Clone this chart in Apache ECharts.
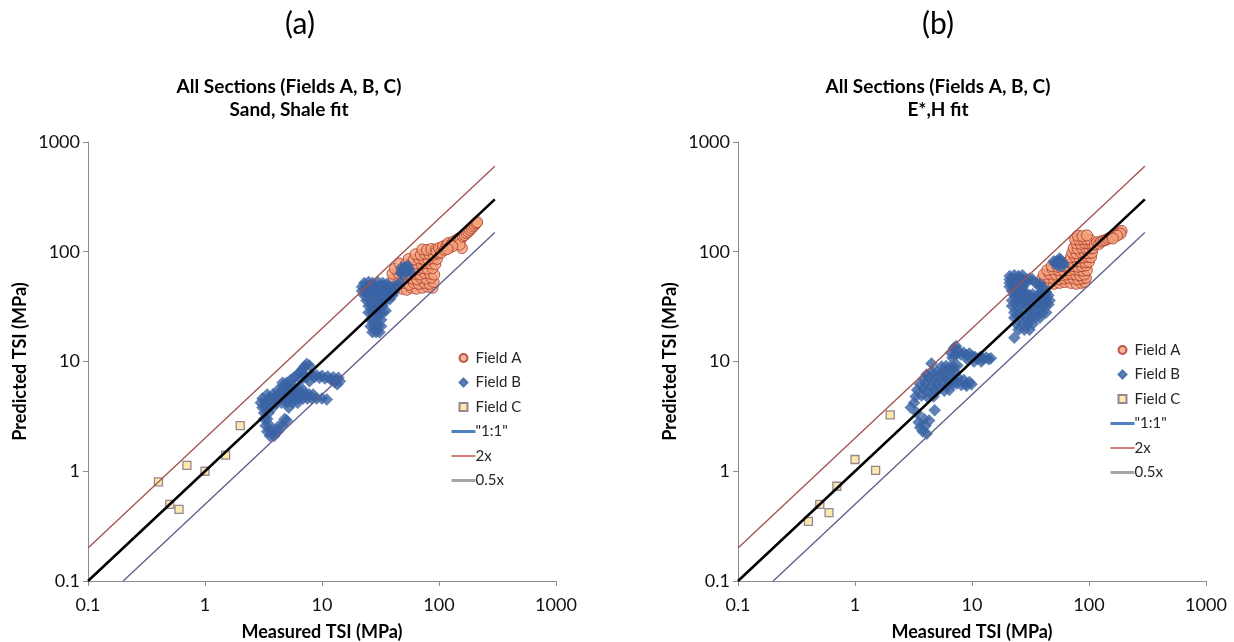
<!DOCTYPE html>
<html>
<head>
<meta charset="utf-8">
<script src="https://cdn.jsdelivr.net/npm/echarts@6/dist/echarts.min.js"></script>
<style>
html, body { margin: 0; padding: 0; background: #fff; }
#main { width: 1234px; height: 642px; }
</style>
</head>
<body>
<div id="main"></div>
<script>
// reference lines, same for both panels
const oneToOne = [[0.1, 0.1], [300, 300]];
const twoX = [[0.1, 0.2], [300, 600]];
const halfX = [[0.2, 0.1], [300, 150]];

// (a) Sand, Shale fit
const fieldA_a = [
  [48,46],[53,45],[58,47],[64,46],[72,47],[80,48],[88,47],
  [44,51],[50,52],[56,50],[61,52],[67,51],[75,52],[83,51],[90,53],
  [41,57],[46,56],[52,58],[59,57],[65,56],[70,58],[78,57],[86,58],
  [40,63],[45,64],[50,62],[55,64],[62,63],[69,62],[76,64],[84,63],[91,62],
  [42,70],[48,69],[54,71],[60,70],[66,69],[73,71],[80,70],[88,71],
  [46,78],[52,77],[58,79],[64,78],[71,77],[77,79],[85,78],[93,77],
  [55,86],[61,85],[67,87],[74,86],[81,85],[89,87],[96,86],
  [63,95],[70,94],[76,96],[83,95],[90,94],[98,96],
  [72,105],[79,104],[86,106],[94,105],[102,104],
  [95,100],[100,108],[104,98],[108,112],[112,104],[116,114],[120,120],[124,110],[128,118],[133,124],
  [138,120],[142,128],[147,132],[152,128],[157,108],[150,116],[160,138],[166,142],[172,148],[178,152],
  [184,158],[190,164],[196,170],[202,176],[208,182],[212,186],[130,112],[118,106]
];
const fieldB_a = [
  // lower group
  [4.7,6.0],[5.2,6.0],[5.7,6.0],
  [4.2,5.5],[4.6,5.5],[5.0,5.5],[5.4,5.5],[5.9,5.5],[6.4,5.5],[6.9,5.5],
  [3.4,5.0],[3.8,5.0],[4.2,5.0],[4.6,5.0],[5.0,5.0],[5.5,5.0],[6.0,5.0],[6.6,5.0],[7.2,5.0],[7.8,5.0],[8.4,5.0],
  [3.1,4.6],[3.5,4.6],[3.9,4.6],[4.3,4.6],[4.8,4.6],[5.3,4.6],[5.8,4.6],[6.3,4.6],[6.9,4.6],[7.5,4.6],
  [8.2,4.6],[9.0,4.6],[10.0,4.6],[11.0,4.5],
  [3.0,4.2],[3.3,4.2],[3.7,4.2],[4.1,4.2],[4.5,4.2],[5.0,4.2],[5.6,4.2],[6.2,4.2],
  [3.1,3.8],[3.4,3.8],[3.8,3.8],[5.2,3.8],
  [3.2,3.4],[3.5,3.4],[3.2,3.0],[3.4,3.0],[4.8,3.0],[5.0,2.9],
  [3.3,2.6],[3.6,2.6],[4.3,2.6],[4.6,2.6],[3.4,2.3],[3.7,2.3],[4.0,2.3],[4.2,2.3],[3.6,2.1],[3.9,2.1],
  [4.6,6.4],[5.0,6.4],[5.4,6.8],[5.8,7.2],[6.2,7.6],[6.5,8.0],[6.8,8.5],[7.1,9.0],[7.4,9.5],[7.8,9.2],
  [7.0,7.6],[7.4,7.2],[6.6,6.8],[7.8,6.6],
  [8.2,7.6],[8.6,7.2],[9.0,7.5],[9.5,7.1],[10.0,7.4],[10.6,7.0],[11.2,7.3],[11.8,6.9],[12.5,7.2],
  [13.2,6.8],[13.8,7.1],[14.2,6.6],[13.5,6.2],[12.8,6.5],
  // upper group
  [23,52],[25,53],[27,52],[30,53],[33,52],[36,51],
  [22,48],[24,48],[26,49],[28,48],[31,48],[34,49],[37,48],[40,48],[43,47],
  [22,44],[24,44],[27,45],[29,44],[32,44],[35,45],[38,44],[41,43],
  [23,40],[25,40],[28,41],[31,40],[34,40],[37,41],[40,40],
  [24,36],[26,36],[29,37],[32,36],[35,36],[38,37],
  [25,32],[27,32],[29,33],[31,32],[33,32],
  [25,28],[27,28],[29,29],[31,28],[33,28],[35,29],
  [26,24],[28,24],[30,25],[32,24],
  [26,21],[28,21],[30,21],[32,21],
  [27,18.5],[29,18.5],[31,18.5],
  [44,50],[47,52],
  [47,64],[49,68],[51,72],[53,66],[55,70],[57,65],[50,62],[54,75],[52,69],[48,72]
];
const fieldC_a = [[0.4,0.8],[0.5,0.5],[0.6,0.45],[0.7,1.13],[1,1],[1.5,1.4],[2,2.6]];

// (b) E*,H fit
const fieldA_b = [
  [44,52],[50,51],[56,52],[62,53],[70,52],[78,51],[86,52],[92,53],
  [40,57],[45,58],[50,57],[55,56],[61,57],[67,58],[74,57],[81,56],[88,57],[94,58],
  [41,62],[46,63],[52,62],[58,61],[64,62],[70,63],[77,62],[84,61],[91,62],
  [44,68],[49,69],[55,68],[61,67],[68,68],[75,69],[82,68],[89,67],[96,68],
  [48,74],[54,73],[60,74],[66,75],[73,74],[80,73],[87,74],[94,75],
  [66,81],[72,80],[79,82],[86,81],[93,80],[100,81],
  [70,89],[76,90],[83,88],[90,89],[97,90],[104,89],
  [72,98],[78,97],[85,99],[92,98],[99,97],[106,98],
  [74,108],[80,107],[87,109],[94,108],[101,107],[108,108],
  [78,119],[85,118],[92,120],[99,119],[106,118],
  [76,130],[82,129],[88,131],[95,130],[102,129],
  [80,140],[88,139],[96,141],
  [112,116],[117,122],[122,118],[127,124],[133,126],[139,128],[145,131],[151,134],[157,137],[163,140],
  [170,143],[177,147],[184,151],[190,155],[186,146],[174,140],[160,132]
];
const fieldB_b = [
  // lower group
  [6.6,12.0],[7.0,13.2],[7.3,13.8],[7.6,12.6],[7.2,11.4],[6.8,10.8],
  [8.0,11.6],[8.5,12.0],[9.0,11.4],[9.5,11.8],[10.0,11.2],[10.6,11.0],[11.2,10.6],[11.8,11.0],
  [12.5,10.6],[13.2,10.9],[13.9,10.5],[14.5,10.7],[12.0,10.0],[10.4,10.0],[9.2,10.4],
  [5.5,9.0],[6.0,9.1],[6.5,8.9],[7.0,9.0],[7.5,9.2],
  [4.6,8.0],[5.0,8.1],[5.5,7.9],[6.0,8.0],[6.6,8.2],[7.2,8.0],
  [3.9,7.0],[4.3,7.1],[4.8,6.9],[5.3,7.0],[5.8,7.2],[6.4,7.0],[7.0,6.9],[7.6,7.1],
  [3.6,6.2],[4.0,6.3],[4.5,6.1],[5.0,6.2],[5.6,6.3],[6.2,6.1],[6.8,6.2],[7.4,6.3],[8.1,6.1],[8.8,6.2],
  [3.4,5.5],[3.8,5.6],[4.2,5.4],[4.7,5.5],[5.2,5.6],[5.8,5.4],[6.4,5.5],
  [3.3,4.8],[3.7,4.9],[4.2,4.7],[4.7,4.8],
  [9.0,6.0],[9.5,6.5],[9.9,6.2],[8.5,6.8],
  [4.5,9.6],[4.1,7.6],
  [3.0,3.8],[3.2,4.2],[3.4,3.4],[3.5,2.8],[3.6,2.5],[3.8,2.3],[4.0,2.6],[4.1,2.2],[3.9,3.0],[4.3,2.9],[4.8,3.6],
  // upper group
  [21,60],[23,61],[25,60],[27,61],
  [21,56],[23,56],[25,57],[27,56],[29,56],[31,57],[33,56],
  [21,52],[23,52],[25,53],[27,52],[29,52],[35,52],[38,51],
  [21,48],[23,48],[25,49],[27,48],[38,48],[41,47],
  [22,44],[24,44],[26,45],[28,44],[40,44],[43,43],
  [23,40],[25,40],[27,41],[29,40],[31,40],[33,41],[36,40],[39,40],[42,41],[45,40],
  [22,36],[24,36],[26,37],[28,36],[31,36],[34,37],[37,36],[40,36],[43,37],[46,36],
  [22,32],[24,32],[27,33],[30,32],[33,32],[36,33],[39,32],[42,32],[45,33],
  [23,28],[25,28],[28,29],[31,28],[34,28],[37,29],[40,28],[43,28],
  [23,25],[26,25],[29,25],[32,25],[35,25],[38,25],
  [24,22],[27,22],[30,22],[33,22],
  [25,19.5],[28,19.5],[31,19.5],
  [23,16.5],
  [51,78],[53,82],[55,79],[57,84],[59,80],[61,77],[54,75],[58,74],[50,82],[56,87]
];
const fieldC_b = [[0.4,0.35],[0.5,0.5],[0.6,0.42],[0.7,0.73],[1,1.28],[1.5,1.02],[2,3.27]];

const font = 'Lato';
const chart = echarts.init(document.getElementById('main'));

function axes(i) {
  const common = {
    type: 'log', logBase: 10, min: 0.1, max: 1000, gridIndex: i,
    nameLocation: 'middle',
    nameTextStyle: { fontFamily: font, fontWeight: 'bold', fontSize: 18, color: '#000' },
    axisLine: { show: true, lineStyle: { color: '#8c8c8c', width: 1 } },
    axisTick: { show: true, length: 5, lineStyle: { color: '#8c8c8c' } },
    splitLine: { show: false },
    minorTick: { show: false }
  };
  const fmt = v => String(+(+v).toPrecision(3));
  return {
    x: Object.assign({}, common, {
      name: 'Measured TSI (MPa)', nameGap: 42,
      axisLabel: { fontFamily: font, fontSize: 18, color: '#111', margin: 15, formatter: fmt }
    }),
    y: Object.assign({}, common, {
      name: 'Predicted TSI (MPa)', nameGap: 59,
      axisLabel: { fontFamily: font, fontSize: 18, color: '#111', margin: 8, formatter: fmt }
    })
  };
}

function panelSeries(i, A, B, C) {
  const base = { xAxisIndex: i, yAxisIndex: i, animation: false };
  return [
    Object.assign({ type: 'line', name: '2x', data: twoX, symbol: 'none',
      lineStyle: { color: '#a3504f', width: 1.3 } }, base),
    Object.assign({ type: 'line', name: '0.5x', data: halfX, symbol: 'none',
      lineStyle: { color: '#5f5b88', width: 1.3 } }, base),
    Object.assign({ type: 'line', name: '"1:1"', data: oneToOne, symbol: 'none',
      lineStyle: { color: '#000', width: 2.6 } }, base),
    Object.assign({ type: 'scatter', name: 'Field A', data: A, symbol: 'circle', symbolSize: 11,
      itemStyle: { color: '#f5a27b', borderColor: '#a8392e', borderWidth: 1 } }, base),
    Object.assign({ type: 'scatter', name: 'Field B', data: B, symbol: 'diamond', symbolSize: 12,
      itemStyle: { color: '#3a63a4', borderColor: '#3a63a4', borderWidth: 0.5 } }, base),
    Object.assign({ type: 'scatter', name: 'Field C', data: C, symbol: 'rect', symbolSize: 8,
      itemStyle: { color: '#fbe39a', borderColor: '#7c6a80', borderWidth: 1.3 } }, base)
  ];
}

const hideDot = { opacity: 0 };
const legendItems = [
  { name: 'Field A', icon: 'circle' },
  { name: 'Field B', icon: 'path://M5,0L10,5L5,10L0,5Z' },
  { name: 'Field C', icon: 'path://M0,0H10V10H0Z' },
  { name: '"1:1"', itemStyle: hideDot, lineStyle: { color: '#4f81bd', width: 3 } },
  { name: '2x', itemStyle: hideDot, lineStyle: { color: '#c0504d', width: 1.5 } },
  { name: '0.5x', itemStyle: hideDot, lineStyle: { color: '#a6a6a6', width: 3 } }
];

function legend(left, top) {
  return {
    left: left, top: top, orient: 'vertical', itemWidth: 24, itemHeight: 8, itemGap: 8.5,
    selectedMode: false, padding: 0, symbolKeepAspect: true,
    textStyle: { fontFamily: font, fontSize: 15, lineHeight: 16, color: '#262626', padding: [0, 0, 0, -5] },
    data: legendItems
  };
}

const a = axes(0), b = axes(1);
const titleStyle = { fontFamily: font, fontWeight: 'bold', fontSize: 19, lineHeight: 23, color: '#000' };
const tagStyle = { fontFamily: font, fontWeight: 'normal', fontSize: 30, color: '#000' };

chart.setOption({
  backgroundColor: '#fff',
  title: [
    { text: '(a)', left: 295, top: 4, textAlign: 'center', textStyle: tagStyle },
    { text: '(b)', left: 933, top: 4, textAlign: 'center', textStyle: tagStyle },
    { text: 'All Sections (Fields A, B, C)\nSand, Shale fit', left: 284, top: 70, textAlign: 'center', textStyle: titleStyle },
    { text: 'All Sections (Fields A, B, C)\nE*,H fit', left: 933, top: 70, textAlign: 'center', textStyle: titleStyle }
  ],
  grid: [
    { left: 88, top: 142, width: 468, height: 439, containLabel: false, outerBoundsMode: 'none' },
    { left: 738, top: 142, width: 468, height: 439, containLabel: false, outerBoundsMode: 'none' }
  ],
  xAxis: [a.x, b.x],
  yAxis: [a.y, b.y],
  legend: [legend(450, 350), legend(1109, 342)],
  series: panelSeries(0, fieldA_a, fieldB_a, fieldC_a).concat(panelSeries(1, fieldA_b, fieldB_b, fieldC_b))
});
</script>
</body>
</html>
